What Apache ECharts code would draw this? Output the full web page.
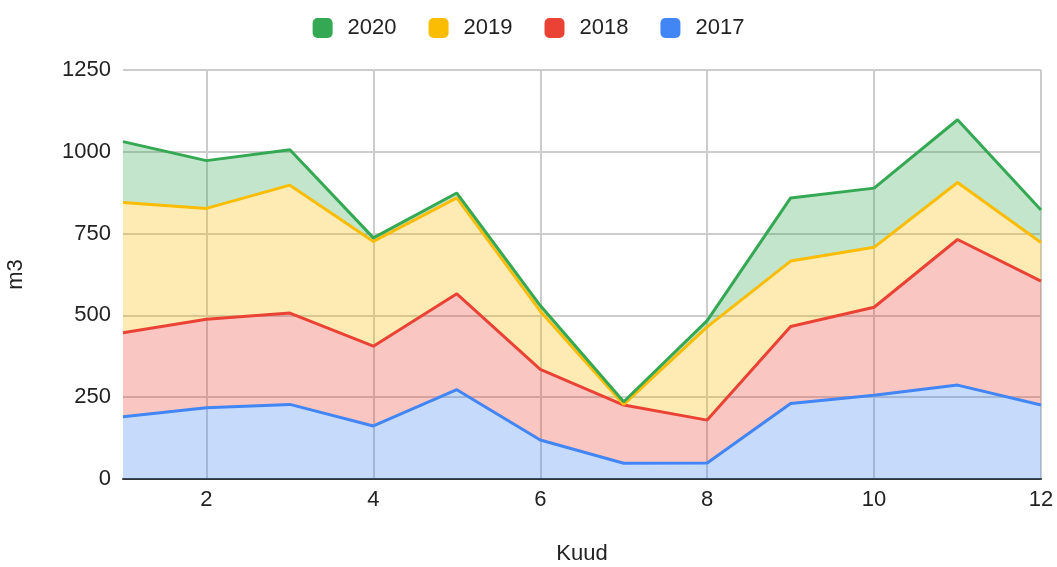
<!DOCTYPE html>
<html>
<head>
<meta charset="utf-8">
<script src="https://cdn.jsdelivr.net/npm/echarts@6/dist/echarts.min.js"></script>
<style>html,body{margin:0;padding:0;background:#fff;}#c{width:1057px;height:567px;}</style>
</head>
<body>
<div id="c"></div>
<script>
const months = ['1','2','3','4','5','6','7','8','9','10','11','12'];
const s2017 = [190, 218, 228, 162, 273, 119, 48, 49, 231, 256, 287, 226];
const s2018 = [257, 270, 279, 244, 293, 216, 178, 131, 235, 269, 445, 379];
const s2019 = [398, 339, 391, 320, 293, 178, 2, 285, 200, 183, 174, 118];
const s2020 = [186, 146, 108, 11, 15, 17, 8, 19, 193, 181, 192, 99];
const yTicks = [0, 250, 500, 750, 1000, 1250];

const colors = {'2017':'#4285F4','2018':'#EA4335','2019':'#FBBC04','2020':'#34A853'};
const F = 'Arial, "Liberation Sans", sans-serif';
function mk(name, data){
  return {name, type:'line', stack:'all', data, symbol:'none',
    lineStyle:{width:3, color:colors[name]}, itemStyle:{color:colors[name]},
    areaStyle:{color:colors[name], opacity:0.3}};
}
const chart = echarts.init(document.getElementById('c'));
chart.setOption({
  animation:false,
  legend:{top:12, left:'center', itemWidth:20, itemHeight:20, icon:'roundRect', itemGap:32,
    data:['2020','2019','2018','2017'],
    textStyle:{fontSize:22, color:'#222', fontFamily:F, padding:[0,0,0,10]}},
  grid:{left:123, right:16, top:70, bottom:88, outerBoundsMode:'none', containLabel:false},
  xAxis:{type:'category', data:months, boundaryGap:false,
    name:'Kuud', nameLocation:'middle', nameGap:64,
    nameTextStyle:{fontSize:22, color:'#222', fontFamily:F},
    axisLine:{show:true, lineStyle:{color:'#333', width:2}},
    axisTick:{show:false},
    axisLabel:{interval:(i,v)=>Number(v)%2===0, fontSize:22, color:'#222', fontFamily:F, margin:10},
    splitLine:{show:true, interval:(i,v)=>Number(v)%2===0, lineStyle:{color:'#ccc', width:2}}},
  yAxis:{type:'value', min:yTicks[0], max:yTicks[yTicks.length-1], interval:250,
    name:'m3', nameLocation:'middle', nameGap:96,
    nameTextStyle:{fontSize:22, color:'#222', fontFamily:F},
    axisLine:{show:false}, axisTick:{show:false},
    axisLabel:{fontSize:22, color:'#222', fontFamily:F, margin:12, formatter:(v)=>String(v)},
    splitLine:{lineStyle:{color:'#ccc', width:2}}},
  series:[mk('2017', s2017), mk('2018', s2018), mk('2019', s2019), mk('2020', s2020)]
});
</script>
</body>
</html>
